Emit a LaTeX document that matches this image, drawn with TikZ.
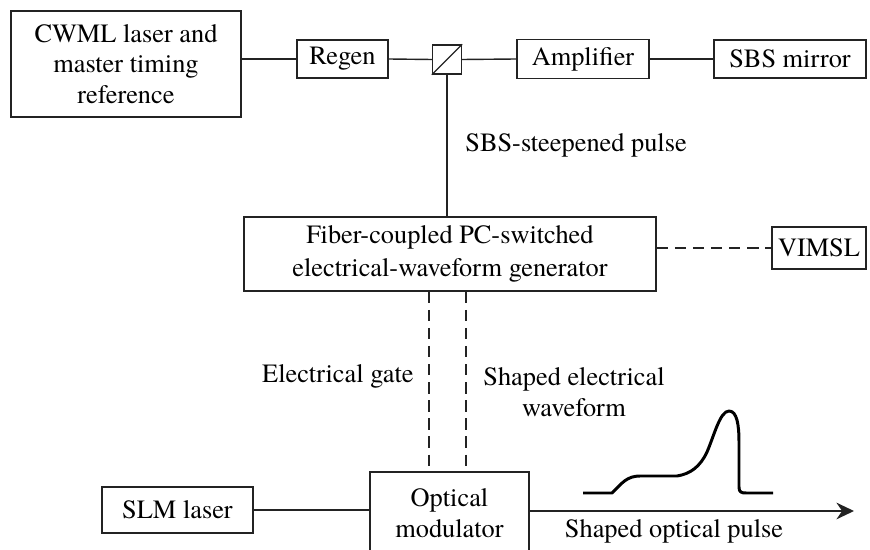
\documentclass[tikz,border=0pt]{standalone}
\usepackage{fontspec}
\setmainfont{texgyretermes}[Extension=.otf, UprightFont=*-regular]
\usepackage{tikz}
\usetikzlibrary{arrows.meta, positioning, calc}
\definecolor{mydark}{RGB}{35,35,35}
\tikzset{
  block/.style={rectangle, draw=mydark, line width=0.8pt, align=center,
    inner sep=0pt, font=\fontsize{15}{17.5}\selectfont},
  splitter/.style={rectangle, draw=mydark, line width=0.8pt,
    minimum size=0.58cm, inner sep=0pt},
  line/.style={line width=0.8pt, color=mydark},
  dashline/.style={line width=0.8pt, color=mydark, dash pattern=on 6.5pt off 3.8pt},
  label/.style={font=\fontsize{15}{18}\selectfont, inner sep=0pt, align=center},
  pulse/.style={line width=1.7pt, color=black, line join=round}
}

\begin{document}
\begin{tikzpicture}[x=0.02cm, y=-0.02cm]
  \useasboundingbox (0,0) rectangle (870,550);
  \clip (0,0) rectangle (870,550);

  % Top row: laser chain
  \node[block, minimum width=4.6cm, minimum height=2.12cm] (cwml) at (126,64)
    {CWML laser and\\master timing\\reference};
  \node[block, minimum width=1.82cm, minimum height=0.76cm] (regen) at (342.5,59) {Regen};
  \node[splitter] (bs) at (447,59.5) {};
  \node[block, minimum width=2.64cm, minimum height=0.78cm] (amp) at (583,59) {Amplifier};
  \node[block, minimum width=3.04cm, minimum height=0.76cm] (sbs) at (790,59) {SBS mirror};

  \draw[line] (regen.west) -- (regen.west -| cwml.east);
  \draw[line] (regen.east) -- (bs.west);
  \draw[line] (bs.south west) -- (bs.north east);
  \draw[line] (bs.east) -- (amp.west);
  \draw[line] (amp.east) -- (sbs.west);

  % Waveform generator
  \node[block, minimum width=8.24cm, minimum height=1.48cm,
    font=\fontsize{15}{19}\selectfont] (gen) at (450,254)
    {Fiber-coupled PC-switched\\electrical-waveform generator};
  \node[block, minimum width=1.88cm, minimum height=0.84cm] (vimsl) at (819,248) {VIMSL};

  \draw[line] (bs.south) -- (bs.south |- gen.north);
  \node[label, anchor=west] (sbslbl) at (465,145) {SBS-steepened pulse};
  \draw[dashline] (vimsl.west -| gen.east) -- (vimsl.west);

  % Bottom row: modulator
  \node[block, minimum width=3.02cm, minimum height=0.92cm] (slm) at (177.5,510) {SLM laser};
  \node[block, minimum width=3.18cm, minimum height=1.64cm] (mod) at (449.5,513)
    {Optical\\modulator};

  \coordinate (gatetop) at (429,291);
  \coordinate (wavetop) at (466,291);
  \draw[dashline] (gatetop |- gen.south) -- (gatetop |- mod.north);
  \draw[dashline] (wavetop |- gen.south) -- (wavetop |- mod.north);
  \node[label, anchor=east] (gatelbl) at (414,376) {Electrical gate};
  \node[label] (wavelbl) at (574,392) {Shaped electrical\\waveform};

  \draw[line] (slm.east) -- (slm.east -| mod.west);
  \coordinate (outend) at (854,511);
  \draw[line, -{Stealth[length=10pt, width=9.5pt]}] (outend -| mod.east) -- (outend);
  \node[label] (outlbl) at (674,531) {Shaped optical pulse};

  % Output pulse shape
  \draw[pulse] (583,493) -- (612,493)
    .. controls (622,483) and (627,476) .. (640,476) -- (677,476)
    .. controls (690,474) and (700,467) .. (707,452)
    .. controls (714,436) and (720,411) .. (729,411)
    .. controls (737,411) and (739,425) .. (739,442) -- (739,487)
    .. controls (739,492) and (741,493) .. (746,493) -- (773,493);
\end{tikzpicture}
\end{document}
